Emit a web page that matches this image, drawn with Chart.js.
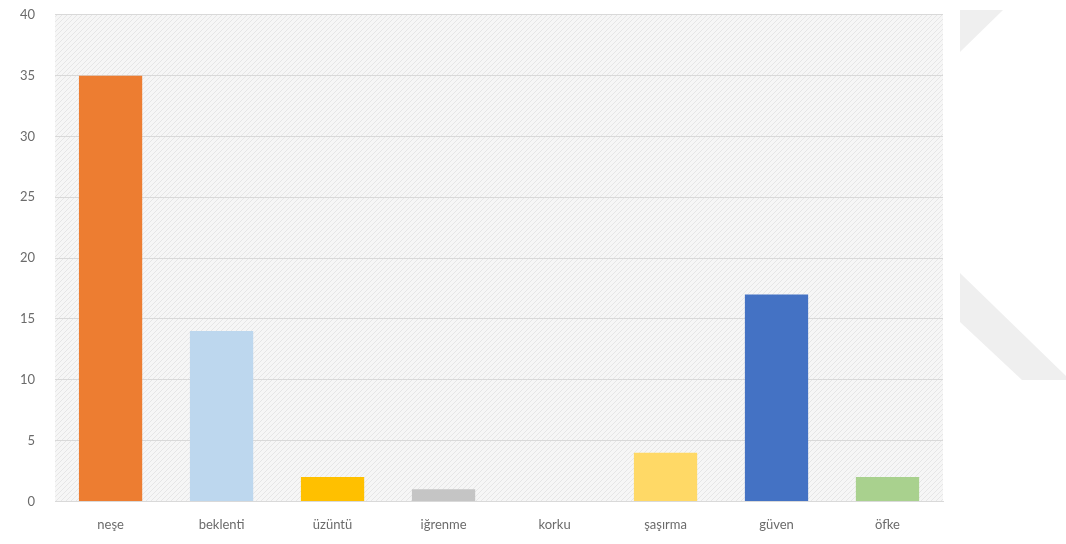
<!DOCTYPE html>
<html>
<head>
<meta charset="utf-8">
<script src="https://cdn.jsdelivr.net/npm/chart.js@4/dist/chart.umd.min.js"></script>
<style>
    html, body { margin: 0; padding: 0; background: #fff; }
    #wrap { width: 1066px; height: 544px; position: relative; overflow: hidden; }
    #inner { position: absolute; left: 0; top: -13px; width: 1066px; height: 557px; }
</style>
</head>
<body>
<div id="wrap"><div id="inner"><canvas id="emotionChart"></canvas></div></div>
<script>
const categories = ['neşe', 'beklenti', 'üzüntü', 'iğrenme', 'korku', 'şaşırma', 'güven', 'öfke'];
const counts = [35, 14, 2, 1, 0, 4, 17, 2];
const barColors = ['#ED7D31', '#BDD7EE', '#FFC000', '#C5C5C5', '#A5A5A5', '#FFD966', '#4472C4', '#A9D18E'];
const yTicks = [0, 5, 10, 15, 20, 25, 30, 35, 40];

document.addEventListener('DOMContentLoaded', function() {
    // hatched plot background like the original
    function makeHatch() {
        const c = document.createElement('canvas');
        c.width = 5; c.height = 5;
        const g = c.getContext('2d');
        g.fillStyle = '#f6f6f6';
        g.fillRect(0, 0, 5, 5);
        g.strokeStyle = '#e6e6e6';
        g.lineWidth = 1;
        g.beginPath();
        g.moveTo(0, 5); g.lineTo(5, 0);
        g.moveTo(-1, 1); g.lineTo(1, -1);
        g.moveTo(4, 6); g.lineTo(6, 4);
        g.stroke();
        return g.createPattern(c, 'repeat');
    }

    // canvas sits 13px higher than the page
    const shift = 13;

    const backdrop = {
        id: 'backdrop',
        beforeDraw(chart) {
            const ctx = chart.ctx;
            const a = chart.chartArea;
            ctx.save();
            ctx.fillStyle = makeHatch();
            ctx.fillRect(a.left, a.top, a.right - a.left, a.bottom - a.top);
            // watermark shapes at the right edge
            ctx.translate(0, shift);
            ctx.fillStyle = '#efefef';
            ctx.beginPath();
            ctx.moveTo(960, 10); ctx.lineTo(1003, 10); ctx.lineTo(960, 52);
            ctx.closePath(); ctx.fill();
            ctx.beginPath();
            ctx.moveTo(960, 273); ctx.lineTo(1066, 376); ctx.lineTo(1066, 380);
            ctx.lineTo(1022, 380); ctx.lineTo(960, 322);
            ctx.closePath(); ctx.fill();
            ctx.restore();
        }
    };

    const ctx = document.getElementById('emotionChart').getContext('2d');
    new Chart(ctx, {
        type: 'bar',
        data: {
            labels: categories,
            datasets: [{
                data: counts,
                backgroundColor: barColors,
                borderWidth: 0,
                barPercentage: 0.57,
                categoryPercentage: 1.0
            }]
        },
        options: {
            responsive: true,
            maintainAspectRatio: false,
            animation: false,
            layout: {
                padding: { left: 0, right: 123, top: 0, bottom: 3 }
            },
            scales: {
                x: {
                    grid: { display: false },
                    border: { color: '#d9d9d9' },
                    ticks: {
                        color: '#6b6b6b',
                        font: { family: 'Lato', size: 13 },
                        padding: 8
                    }
                },
                y: {
                    min: 0,
                    max: 40,
                    afterBuildTicks: function(axis) {
                        axis.ticks = yTicks.map(v => ({ value: v }));
                    },
                    grid: { color: '#d9d9d9', drawTicks: false },
                    border: { display: false },
                    ticks: {
                        color: '#6b6b6b',
                        font: { family: 'Lato', size: 13 },
                        padding: 20
                    }
                }
            },
            plugins: {
                legend: { display: false },
                tooltip: { enabled: false }
            }
        },
        plugins: [backdrop]
    });
});
</script>
</body>
</html>
